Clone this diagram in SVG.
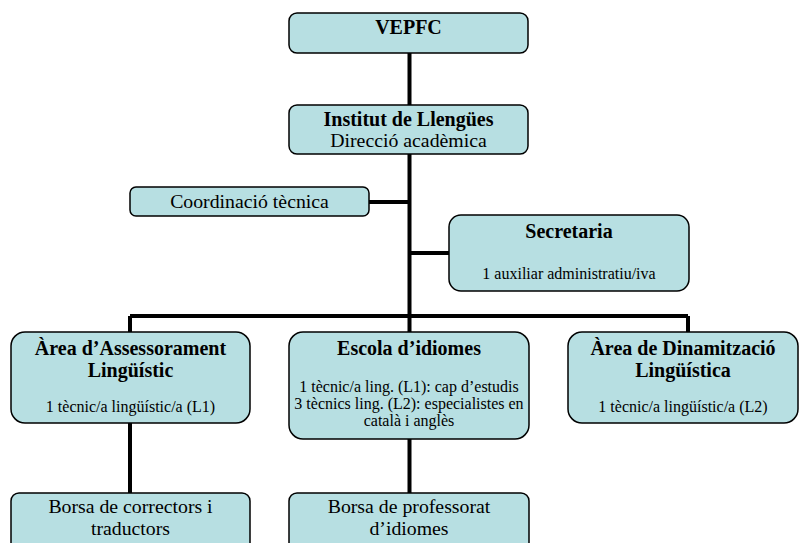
<svg xmlns="http://www.w3.org/2000/svg" width="800" height="543" viewBox="0 0 800 543">
<style>
.box{fill:#b7dfe2;stroke:#000;stroke-width:1.5}
.ln{stroke:#000;stroke-width:4;fill:none}
text{font-family:"Liberation Serif","DejaVu Serif",serif;fill:#000;text-anchor:middle}
.b{font-weight:bold;font-size:20px}
.r{font-size:19.8px}
.s{font-size:16px}
</style>
<rect width="800" height="543" fill="#fff"/>
<g id="connectors">
<path class="ln" d="M409.5 53V105M409.5 154V316M369 202H409.5M409.5 253H449M130 316H688M130 316V332M688 316V332M409.5 316V332M130 423V494M409.5 439V494"/>
</g>
<g id="vepfc">
<rect class="box" x="289" y="13" width="239" height="40" rx="8"/>
<text class="b" x="408.5" y="34">VEPFC</text>
</g>
<g id="institut">
<rect class="box" x="289" y="105" width="239" height="49" rx="8"/>
<text class="b" x="408.5" y="126">Institut de Llengües</text>
<text class="r" x="408.5" y="147">Direcció acadèmica</text>
</g>
<g id="coordinacio">
<rect class="box" x="130" y="187" width="239" height="29" rx="6"/>
<text class="r" x="249.5" y="208">Coordinació tècnica</text>
</g>
<g id="secretaria">
<rect class="box" x="449" y="215" width="240" height="76" rx="12"/>
<text class="b" x="569" y="238">Secretaria</text>
<text class="s" x="569" y="279">1 auxiliar administratiu/iva</text>
</g>
<g id="assessorament">
<rect class="box" x="11" y="332" width="239" height="91" rx="14"/>
<text class="b" x="130.5" y="355">Àrea d’Assessorament</text>
<text class="b" x="130.5" y="377">Lingüístic</text>
<text class="s" x="130.5" y="412">1 tècnic/a lingüístic/a (L1)</text>
</g>
<g id="escola">
<rect class="box" x="289" y="332" width="240" height="107" rx="14"/>
<text class="b" x="409" y="355">Escola d’idiomes</text>
<text class="s" x="409" y="392">1 tècnic/a ling. (L1): cap d’estudis</text>
<text class="s" x="409" y="409">3 tècnics ling. (L2): especialistes en</text>
<text class="s" x="409" y="426">català i anglès</text>
</g>
<g id="dinamitzacio">
<rect class="box" x="568" y="332" width="230" height="91" rx="14"/>
<text class="b" x="683" y="355">Àrea de Dinamització</text>
<text class="b" x="683" y="377">Lingüística</text>
<text class="s" x="683" y="412">1 tècnic/a lingüístic/a (L2)</text>
</g>
<g id="borsa-correctors">
<rect class="box" x="11" y="493" width="239" height="60" rx="8"/>
<text class="r" x="130.5" y="513">Borsa de correctors i</text>
<text class="r" x="130.5" y="535">traductors</text>
</g>
<g id="borsa-professorat">
<rect class="box" x="289" y="493" width="240" height="60" rx="8"/>
<text class="r" x="409" y="513">Borsa de professorat</text>
<text class="r" x="409" y="535">d’idiomes</text>
</g>
</svg>
